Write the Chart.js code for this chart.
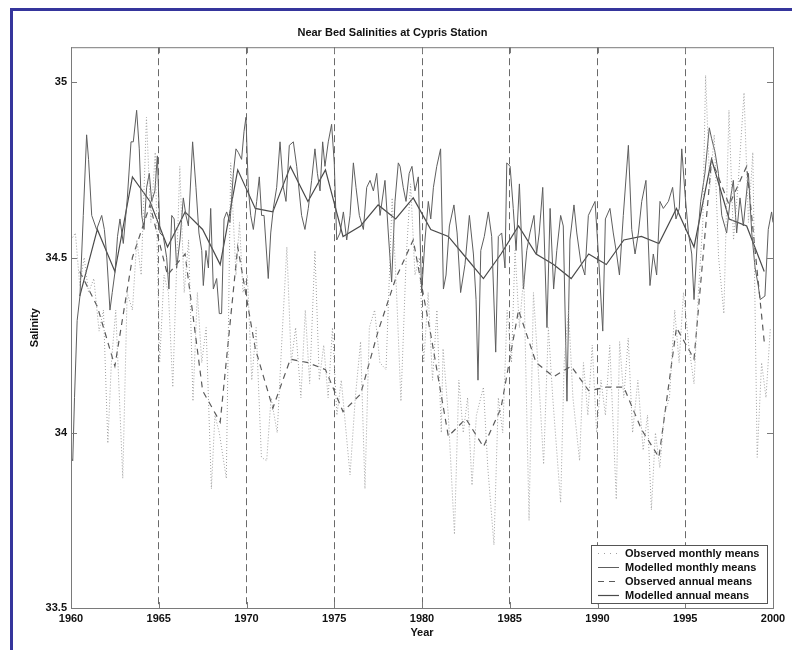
<!DOCTYPE html>
<html>
<head>
<meta charset="utf-8">
<script src="https://cdn.jsdelivr.net/npm/chart.js@4.4.1/dist/chart.umd.min.js"></script>
<style>
  body { margin: 0; background: #fff; }
  #wrap { position: relative; width: 792px; height: 650px; overflow: hidden; }
  #frame { position: absolute; left: 10px; top: 8px; width: 800px; height: 660px;
           border-left: 3px solid #35359c; border-top: 3px solid #35359c; pointer-events: none; }
</style>
</head>
<body>
<div id="wrap">
  <canvas id="salinityChart" width="792" height="650"></canvas>
  <div id="frame"></div>
</div>
<script>
// annual means, plotted at mid-year
var annualYears = [1960.5, 1961.5, 1962.5, 1963.5, 1964.5, 1965.5, 1966.5, 1967.5, 1968.5, 1969.5,
    1970.5, 1971.5, 1972.5, 1973.5, 1974.5, 1975.5, 1976.5, 1977.5, 1978.5, 1979.5,
    1980.5, 1981.5, 1982.5, 1983.5, 1984.5, 1985.5, 1986.5, 1987.5, 1988.5, 1989.5,
    1990.5, 1991.5, 1992.5, 1993.5, 1994.5, 1995.5, 1996.5, 1997.5, 1998.5, 1999.5];
var obsAnnual = [34.46, 34.36, 34.19, 34.50, 34.65, 34.45, 34.51, 34.12, 34.03, 34.53,
    34.24, 34.07, 34.21, 34.20, 34.18, 34.06, 34.11, 34.29, 34.44, 34.55,
    34.28, 33.99, 34.04, 33.96, 34.07, 34.35, 34.20, 34.16, 34.19, 34.12,
    34.13, 34.13, 34.01, 33.93, 34.30, 34.21, 34.78, 34.65, 34.76, 34.26];
var modAnnual = [34.39, 34.58, 34.46, 34.73, 34.66, 34.53, 34.63, 34.58, 34.48, 34.75,
    34.64, 34.63, 34.76, 34.66, 34.75, 34.56, 34.59, 34.65, 34.61, 34.67,
    34.58, 34.56, 34.50, 34.44, 34.51, 34.59, 34.51, 34.48, 34.44, 34.51,
    34.48, 34.55, 34.56, 34.54, 34.64, 34.53, 34.78, 34.61, 34.59, 34.46];

// monthly means: [year, salinity] (turning points)
var obsMonthly = [[1960.0,34.55],[1960.25,34.57],[1960.5,34.42],[1960.75,34.50],[1961.0,34.40],[1961.3,34.44],
    [1961.6,34.29],[1961.85,34.35],[1962.1,33.97],[1962.3,34.20],[1962.55,34.35],[1962.95,33.87],[1963.2,34.40],
    [1963.5,34.35],[1963.75,34.55],[1964.0,34.45],[1964.3,34.90],[1964.55,34.60],[1964.8,34.80],[1965.05,34.20],
    [1965.3,34.45],[1965.55,34.40],[1965.8,34.13],[1966.2,34.76],[1966.45,34.40],[1966.7,34.55],[1966.95,34.09],
    [1967.2,34.40],[1967.45,34.20],[1967.7,34.30],[1968.0,33.84],[1968.2,34.05],[1968.45,34.00],[1968.85,33.87],
    [1969.1,34.77],[1969.4,34.45],[1969.6,34.60],[1969.8,34.40],[1970.05,34.45],[1970.3,34.15],[1970.55,34.30],
    [1970.85,33.93],[1971.15,33.92],[1971.4,34.10],[1971.75,34.00],[1972.0,34.25],[1972.3,34.53],[1972.55,34.20],
    [1972.8,34.30],[1973.1,34.10],[1973.35,34.35],[1973.6,34.14],[1973.9,34.52],[1974.15,34.15],[1974.4,34.25],
    [1974.65,34.10],[1974.9,34.30],[1975.15,34.05],[1975.4,34.15],[1975.9,33.88],[1976.2,34.10],[1976.5,34.26],
    [1976.75,33.84],[1977.0,34.30],[1977.3,34.35],[1977.6,34.20],[1977.95,34.18],[1978.3,34.67],[1978.55,34.40],
    [1978.8,34.09],[1979.1,34.50],[1979.35,34.71],[1979.6,34.45],[1979.85,34.50],[1980.1,34.20],[1980.35,34.40],
    [1980.6,34.15],[1980.85,34.35],[1981.1,34.00],[1981.2,34.24],[1981.5,34.05],[1981.85,33.71],[1982.1,34.15],
    [1982.35,34.00],[1982.6,34.10],[1982.85,33.85],[1983.1,34.05],[1983.5,34.13],[1983.75,33.90],[1984.1,33.68],
    [1984.35,34.10],[1984.6,34.00],[1984.85,34.35],[1985.1,34.20],[1985.3,34.52],[1985.55,34.30],[1985.8,34.45],
    [1986.1,33.75],[1986.35,34.40],[1986.6,34.20],[1986.93,33.91],[1987.2,34.30],[1987.45,34.10],[1987.9,33.80],
    [1988.1,34.20],[1988.35,34.35],[1988.6,34.10],[1988.98,33.92],[1989.2,34.20],[1989.45,34.05],[1989.7,34.25],
    [1989.95,34.00],[1990.2,34.15],[1990.45,34.05],[1990.7,34.25],[1991.07,33.81],[1991.26,34.26],[1991.5,34.10],
    [1991.75,34.27],[1992.0,34.00],[1992.3,34.15],[1992.6,33.95],[1992.85,34.05],[1993.07,33.78],[1993.3,34.00],
    [1993.55,33.90],[1993.8,34.05],[1994.1,34.10],[1994.4,34.35],[1994.65,34.20],[1994.9,34.40],[1995.2,34.25],
    [1995.5,34.14],[1995.75,34.40],[1996.0,34.60],[1996.16,35.02],[1996.4,34.70],[1996.65,34.85],[1996.9,34.50],
    [1997.2,34.34],[1997.49,34.92],[1997.75,34.55],[1998.0,34.70],[1998.35,34.97],[1998.6,34.60],[1998.85,34.80],
    [1999.1,33.93],[1999.35,34.20],[1999.6,34.10],[1999.85,34.30]];

var modMonthly = [[1960.0,33.93],[1960.1,33.92],[1960.2,34.10],[1960.35,34.32],[1960.51,34.39],[1960.7,34.62],
    [1960.89,34.85],[1961.0,34.78],[1961.18,34.62],[1961.46,34.58],[1961.75,34.62],[1961.9,34.58],[1962.03,34.51],
    [1962.22,34.35],[1962.35,34.40],[1962.51,34.46],[1962.65,34.56],[1962.79,34.61],[1962.98,34.54],[1963.21,34.67],
    [1963.42,34.83],[1963.55,34.83],[1963.74,34.92],[1963.89,34.81],[1964.03,34.62],[1964.16,34.58],[1964.31,34.70],
    [1964.46,34.74],[1964.6,34.66],[1964.78,34.69],[1964.92,34.79],[1965.07,34.57],[1965.26,34.56],[1965.45,34.50],
    [1965.58,34.41],[1965.74,34.62],[1965.88,34.61],[1966.02,34.47],[1966.21,34.55],[1966.4,34.67],[1966.55,34.62],
    [1966.69,34.59],[1966.93,34.83],[1967.12,34.70],[1967.29,34.57],[1967.45,34.52],[1967.54,34.42],[1967.69,34.52],
    [1967.83,34.47],[1967.96,34.64],[1968.11,34.41],[1968.3,34.44],[1968.45,34.34],[1968.58,34.34],[1968.72,34.61],
    [1968.87,34.63],[1969.06,34.60],[1969.25,34.74],[1969.4,34.81],[1969.53,34.80],[1969.72,34.78],[1969.86,34.86],
    [1969.97,34.90],[1970.1,34.70],[1970.24,34.62],[1970.39,34.58],[1970.58,34.66],[1970.73,34.73],[1970.86,34.62],
    [1971.0,34.62],[1971.24,34.44],[1971.38,34.57],[1971.53,34.64],[1971.72,34.70],[1971.91,34.83],[1972.1,34.70],
    [1972.25,34.66],[1972.44,34.82],[1972.67,34.83],[1972.86,34.76],[1973.14,34.62],[1973.33,34.58],[1973.52,34.64],
    [1973.71,34.72],[1973.9,34.81],[1974.04,34.74],[1974.19,34.69],[1974.34,34.83],[1974.47,34.76],[1974.66,34.83],
    [1974.85,34.88],[1975.0,34.77],[1975.14,34.55],[1975.33,34.57],[1975.52,34.63],[1975.71,34.55],[1975.9,34.62],
    [1976.09,34.77],[1976.24,34.70],[1976.43,34.62],[1976.66,34.58],[1976.85,34.70],[1977.04,34.72],[1977.23,34.69],
    [1977.42,34.74],[1977.61,34.62],[1977.89,34.72],[1978.08,34.57],[1978.27,34.43],[1978.46,34.66],[1978.65,34.77],
    [1978.75,34.76],[1978.93,34.70],[1979.09,34.66],[1979.27,34.74],[1979.43,34.76],[1979.6,34.69],[1979.79,34.73],
    [1979.98,34.40],[1980.17,34.55],[1980.36,34.66],[1980.5,34.61],[1980.65,34.70],[1980.84,34.76],[1981.06,34.81],
    [1981.22,34.41],[1981.37,34.45],[1981.56,34.59],[1981.82,34.65],[1982.0,34.57],[1982.2,34.40],[1982.45,34.48],
    [1982.7,34.62],[1982.93,34.51],[1983.08,34.38],[1983.19,34.15],[1983.35,34.52],[1983.55,34.56],[1983.78,34.63],
    [1983.97,34.56],[1984.2,34.23],[1984.35,34.56],[1984.54,34.57],[1984.73,34.47],[1984.83,34.77],[1985.02,34.76],
    [1985.2,34.64],[1985.36,34.52],[1985.55,34.71],[1985.78,34.41],[1985.97,34.52],[1986.15,34.57],[1986.38,34.62],
    [1986.53,34.51],[1986.68,34.57],[1986.88,34.70],[1987.12,34.30],[1987.3,34.64],[1987.5,34.41],[1987.68,34.52],
    [1987.9,34.62],[1988.05,34.59],[1988.26,34.09],[1988.43,34.55],[1988.66,34.65],[1988.82,34.57],[1989.04,34.49],
    [1989.28,34.45],[1989.48,34.62],[1989.67,34.64],[1989.86,34.66],[1990.05,34.51],[1990.3,34.29],[1990.45,34.61],
    [1990.71,34.64],[1990.9,34.57],[1991.09,34.51],[1991.25,34.45],[1991.47,34.62],[1991.76,34.82],[1991.95,34.58],
    [1992.14,34.51],[1992.33,34.57],[1992.52,34.66],[1992.76,34.72],[1992.99,34.42],[1993.18,34.51],[1993.37,34.45],
    [1993.56,34.66],[1993.75,34.64],[1994.04,34.66],[1994.28,34.70],[1994.47,34.61],[1994.66,34.64],[1994.8,34.81],
    [1994.99,34.68],[1995.18,34.57],[1995.37,34.51],[1995.5,34.38],[1995.69,34.55],[1995.88,34.66],[1996.12,34.74],
    [1996.37,34.87],[1996.5,34.84],[1996.7,34.80],[1996.89,34.74],[1997.08,34.62],[1997.36,34.57],[1997.55,34.66],
    [1997.74,34.72],[1997.93,34.57],[1998.12,34.67],[1998.31,34.59],[1998.6,34.74],[1998.79,34.57],[1998.98,34.47],
    [1999.16,34.42],[1999.27,34.38],[1999.54,34.39],[1999.73,34.58],[1999.92,34.63],[2000.0,34.60]];

var yearTicks = [1960, 1965, 1970, 1975, 1980, 1985, 1990, 1995, 2000];
var salinityTicks = [33.5, 34, 34.5, 35];

var fontFamily = '"Liberation Sans", Arial, Helvetica, sans-serif';

function pairs(list) {
    return list.map(function (p) { return { x: p[0], y: p[1] }; });
}
function annual(values) {
    return values.map(function (v, i) { return { x: annualYears[i], y: v }; });
}

// box round the axes with MATLAB style inward ticks
var framePlugin = {
    id: 'frame',
    afterDatasetsDraw: function (chart) {
        var ctx = chart.ctx, a = chart.chartArea;
        var xs = chart.scales.x, ys = chart.scales.y;
        ctx.save();
        ctx.strokeStyle = '#7a7a7a';
        ctx.lineWidth = 1;
        ctx.strokeRect(a.left + 0.5, a.top + 0.5, a.right - a.left, a.bottom - a.top);
        ctx.beginPath();
        yearTicks.forEach(function (t) {
            var px = Math.round(xs.getPixelForValue(t)) + 0.5;
            ctx.moveTo(px, a.bottom); ctx.lineTo(px, a.bottom - 6);
            ctx.moveTo(px, a.top); ctx.lineTo(px, a.top + 6);
        });
        salinityTicks.forEach(function (t) {
            var py = Math.round(ys.getPixelForValue(t)) + 0.5;
            ctx.moveTo(a.left, py); ctx.lineTo(a.left + 6, py);
            ctx.moveTo(a.right, py); ctx.lineTo(a.right - 6, py);
        });
        ctx.stroke();
        ctx.restore();
    }
};

// legend box in the lower right corner of the axes
var legendPlugin = {
    id: 'boxLegend',
    afterDraw: function (chart) {
        var ctx = chart.ctx, a = chart.chartArea;
        var sets = chart.data.datasets;
        var w = 176, rowH = 14, h = sets.length * rowH + 2;
        var x0 = a.right - 6 - w, y0 = a.bottom - 5 - h;
        ctx.save();
        ctx.fillStyle = '#fff';
        ctx.fillRect(x0, y0, w, h);
        ctx.strokeStyle = '#555';
        ctx.lineWidth = 1;
        ctx.strokeRect(x0 + 0.5, y0 + 0.5, w, h);
        ctx.font = 'bold 11px ' + fontFamily;
        ctx.textBaseline = 'middle';
        sets.forEach(function (ds, i) {
            var cy = Math.round(y0 + 8 + i * rowH) + 0.5;
            ctx.strokeStyle = ds.borderColor;
            ctx.lineWidth = ds.borderWidth;
            ctx.setLineDash(ds.legendDash || ds.borderDash || []);
            ctx.beginPath();
            ctx.moveTo(x0 + 7, cy);
            ctx.lineTo(x0 + 28, cy);
            ctx.stroke();
            ctx.setLineDash([]);
            ctx.fillStyle = '#111';
            ctx.fillText(ds.label, x0 + 34, cy);
        });
        ctx.restore();
    }
};

var ctx1 = document.getElementById('salinityChart').getContext('2d');
var salinityChart = new Chart(ctx1, {
    type: 'line',
    data: {
        datasets: [{
            label: 'Observed monthly means',
            data: pairs(obsMonthly),
            borderColor: '#a0a0a0',
            borderWidth: 1,
            borderDash: [1, 2],
            legendDash: [1, 5]
        }, {
            label: 'Modelled monthly means',
            data: pairs(modMonthly),
            borderColor: '#5e5e5e',
            borderWidth: 1
        }, {
            label: 'Observed annual means',
            data: annual(obsAnnual),
            borderColor: '#5a5a5a',
            borderWidth: 1.2,
            borderDash: [6, 5]
        }, {
            label: 'Modelled annual means',
            data: annual(modAnnual),
            borderColor: '#4a4a4a',
            borderWidth: 1.2
        }]
    },
    options: {
        responsive: false,
        animation: false,
        devicePixelRatio: 1,
        elements: { point: { radius: 0 }, line: { tension: 0 } },
        layout: { padding: { left: 12, right: 19, top: 0, bottom: 0 } },
        plugins: {
            legend: { display: false },
            tooltip: { enabled: false },
            title: {
                display: true,
                text: 'Near Bed Salinities at Cypris Station',
                color: '#111',
                font: { family: fontFamily, size: 11, weight: 'bold' },
                padding: { top: 26, bottom: 8 }
            }
        },
        scales: {
            x: {
                type: 'linear',
                min: 1960,
                max: 2000,
                afterFit: function (scale) { scale.height = 42; },
                ticks: {
                    stepSize: 5,
                    padding: 4,
                    maxRotation: 0,
                    color: '#111',
                    font: { family: fontFamily, size: 11, weight: 'bold' },
                    callback: function (value) { return String(value); }
                },
                grid: {
                    drawTicks: false,
                    lineWidth: 1,
                    color: function (c) {
                        if (!c.tick || c.tick.value === 1960 || c.tick.value === 2000) return 'rgba(0,0,0,0)';
                        return '#6a6a6a';
                    }
                },
                border: { display: false, dash: [7, 4] },
                title: {
                    display: true,
                    text: 'Year',
                    color: '#111',
                    font: { family: fontFamily, size: 11, weight: 'bold' },
                    padding: { top: 0, bottom: 10 }
                }
            },
            y: {
                min: 33.5,
                max: 35.1,
                afterFit: function (scale) { scale.width = 59; },
                ticks: {
                    stepSize: 0.5,
                    includeBounds: false,
                    padding: 4,
                    color: '#111',
                    font: { family: fontFamily, size: 11, weight: 'bold' },
                    callback: function (value) { return String(value); }
                },
                grid: { drawOnChartArea: false, drawTicks: false },
                border: { display: false },
                title: {
                    display: true,
                    text: 'Salinity',
                    color: '#111',
                    font: { family: fontFamily, size: 11, weight: 'bold' },
                    padding: { top: 16, bottom: 0 }
                }
            }
        }
    },
    plugins: [framePlugin, legendPlugin]
});
</script>
</body>
</html>
